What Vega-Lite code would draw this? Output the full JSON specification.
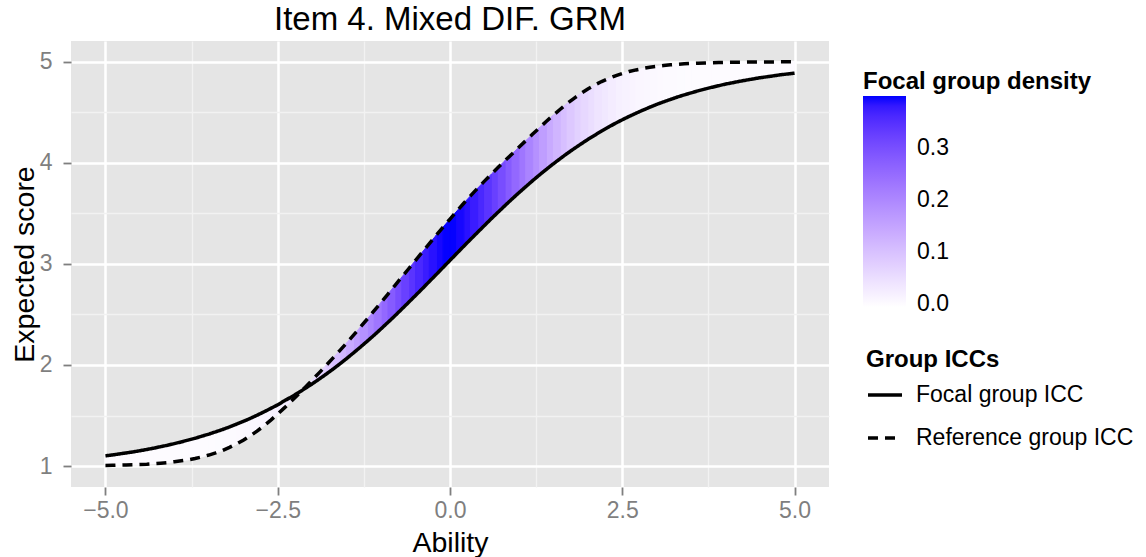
{
  "$schema": "https://vega.github.io/schema/vega-lite/v6.json",
  "width": 758,
  "height": 446,
  "autosize": {"type": "none"},
  "padding": {"left": 71, "top": 41, "right": 317, "bottom": 70},
  "background": "white",
  "title": {"text": "Item 4. Mixed DIF. GRM", "fontSize": 33, "fontWeight": "normal", "color": "black", "anchor": "middle", "frame": "group", "offset": 4},
  "datasets": {
    "icc": [
      {"x":-5.0,"f":1.101,"r":1.006,"d":0,"a":0,"b":0},
      {"x":-4.9,"f":1.110,"r":1.007,"d":0,"a":0,"b":1},
      {"x":-4.8,"f":1.120,"r":1.009,"d":0,"a":1,"b":1},
      {"x":-4.7,"f":1.130,"r":1.011,"d":0,"a":1,"b":2},
      {"x":-4.6,"f":1.140,"r":1.013,"d":0,"a":2,"b":2},
      {"x":-4.5,"f":1.152,"r":1.016,"d":0,"a":2,"b":3},
      {"x":-4.4,"f":1.164,"r":1.019,"d":0,"a":3,"b":3},
      {"x":-4.3,"f":1.177,"r":1.024,"d":0,"a":3,"b":4},
      {"x":-4.2,"f":1.192,"r":1.029,"d":0.0001,"a":4,"b":4},
      {"x":-4.1,"f":1.206,"r":1.035,"d":0.0001,"a":4,"b":5},
      {"x":-4.0,"f":1.222,"r":1.043,"d":0.0001,"a":5,"b":5},
      {"x":-3.9,"f":1.239,"r":1.052,"d":0.0002,"a":5,"b":6},
      {"x":-3.8,"f":1.257,"r":1.062,"d":0.0003,"a":6,"b":6},
      {"x":-3.7,"f":1.275,"r":1.075,"d":0.0004,"a":6,"b":7},
      {"x":-3.6,"f":1.296,"r":1.091,"d":0.0006,"a":7,"b":7},
      {"x":-3.5,"f":1.316,"r":1.109,"d":0.0009,"a":7,"b":8},
      {"x":-3.4,"f":1.339,"r":1.130,"d":0.0012,"a":8,"b":8},
      {"x":-3.3,"f":1.362,"r":1.155,"d":0.0017,"a":8,"b":9},
      {"x":-3.2,"f":1.387,"r":1.185,"d":0.0024,"a":9,"b":9},
      {"x":-3.1,"f":1.414,"r":1.218,"d":0.0033,"a":9,"b":10},
      {"x":-3.0,"f":1.442,"r":1.256,"d":0.0044,"a":10,"b":10},
      {"x":-2.9,"f":1.471,"r":1.299,"d":0.0060,"a":10,"b":11},
      {"x":-2.8,"f":1.503,"r":1.346,"d":0.0079,"a":11,"b":11},
      {"x":-2.7,"f":1.536,"r":1.398,"d":0.0104,"a":11,"b":12},
      {"x":-2.6,"f":1.571,"r":1.455,"d":0.0136,"a":12,"b":12},
      {"x":-2.5,"f":1.606,"r":1.515,"d":0.0175,"a":12,"b":13},
      {"x":-2.4,"f":1.647,"r":1.578,"d":0.0224,"a":13,"b":13},
      {"x":-2.3,"f":1.685,"r":1.644,"d":0.0283,"a":13,"b":14},
      {"x":-2.2,"f":1.726,"r":1.711,"d":0.0355,"a":14,"b":14},
      {"x":-2.1,"f":1.769,"r":1.781,"d":0.0440,"a":14,"b":15},
      {"x":-2.0,"f":1.813,"r":1.851,"d":0.0540,"a":15,"b":15},
      {"x":-1.9,"f":1.860,"r":1.922,"d":0.0656,"a":15,"b":16},
      {"x":-1.8,"f":1.908,"r":1.994,"d":0.0790,"a":16,"b":16},
      {"x":-1.7,"f":1.958,"r":2.068,"d":0.0940,"a":16,"b":17},
      {"x":-1.6,"f":2.010,"r":2.142,"d":0.1109,"a":17,"b":17},
      {"x":-1.5,"f":2.064,"r":2.218,"d":0.1295,"a":17,"b":18},
      {"x":-1.4,"f":2.120,"r":2.296,"d":0.1497,"a":18,"b":18},
      {"x":-1.3,"f":2.177,"r":2.375,"d":0.1714,"a":18,"b":19},
      {"x":-1.2,"f":2.236,"r":2.455,"d":0.1942,"a":19,"b":19},
      {"x":-1.1,"f":2.296,"r":2.537,"d":0.2179,"a":19,"b":20},
      {"x":-1.0,"f":2.358,"r":2.619,"d":0.2420,"a":20,"b":20},
      {"x":-0.9,"f":2.422,"r":2.702,"d":0.2661,"a":20,"b":21},
      {"x":-0.8,"f":2.486,"r":2.786,"d":0.2897,"a":21,"b":21},
      {"x":-0.7,"f":2.553,"r":2.869,"d":0.3123,"a":21,"b":22},
      {"x":-0.6,"f":2.620,"r":2.952,"d":0.3332,"a":22,"b":22},
      {"x":-0.5,"f":2.688,"r":3.035,"d":0.3521,"a":22,"b":23},
      {"x":-0.4,"f":2.756,"r":3.118,"d":0.3683,"a":23,"b":23},
      {"x":-0.3,"f":2.826,"r":3.201,"d":0.3814,"a":23,"b":24},
      {"x":-0.2,"f":2.895,"r":3.283,"d":0.3910,"a":24,"b":24},
      {"x":-0.1,"f":2.965,"r":3.364,"d":0.3970,"a":24,"b":25},
      {"x":0.0,"f":3.035,"r":3.444,"d":0.3989,"a":25,"b":25},
      {"x":0.1,"f":3.105,"r":3.523,"d":0.3970,"a":25,"b":26},
      {"x":0.2,"f":3.175,"r":3.600,"d":0.3910,"a":26,"b":26},
      {"x":0.3,"f":3.244,"r":3.675,"d":0.3814,"a":26,"b":27},
      {"x":0.4,"f":3.312,"r":3.748,"d":0.3683,"a":27,"b":27},
      {"x":0.5,"f":3.380,"r":3.819,"d":0.3521,"a":27,"b":28},
      {"x":0.6,"f":3.448,"r":3.888,"d":0.3332,"a":28,"b":28},
      {"x":0.7,"f":3.513,"r":3.956,"d":0.3123,"a":28,"b":29},
      {"x":0.8,"f":3.578,"r":4.023,"d":0.2897,"a":29,"b":29},
      {"x":0.9,"f":3.642,"r":4.088,"d":0.2661,"a":29,"b":30},
      {"x":1.0,"f":3.704,"r":4.154,"d":0.2420,"a":30,"b":30},
      {"x":1.1,"f":3.764,"r":4.219,"d":0.2179,"a":30,"b":31},
      {"x":1.2,"f":3.824,"r":4.284,"d":0.1942,"a":31,"b":31},
      {"x":1.3,"f":3.881,"r":4.348,"d":0.1714,"a":31,"b":32},
      {"x":1.4,"f":3.936,"r":4.411,"d":0.1497,"a":32,"b":32},
      {"x":1.5,"f":3.990,"r":4.472,"d":0.1295,"a":32,"b":33},
      {"x":1.6,"f":4.042,"r":4.530,"d":0.1109,"a":33,"b":33},
      {"x":1.7,"f":4.092,"r":4.586,"d":0.0940,"a":33,"b":34},
      {"x":1.8,"f":4.140,"r":4.638,"d":0.0790,"a":34,"b":34},
      {"x":1.9,"f":4.186,"r":4.686,"d":0.0656,"a":34,"b":35},
      {"x":2.0,"f":4.231,"r":4.730,"d":0.0540,"a":35,"b":35},
      {"x":2.1,"f":4.273,"r":4.769,"d":0.0440,"a":35,"b":36},
      {"x":2.2,"f":4.314,"r":4.804,"d":0.0355,"a":36,"b":36},
      {"x":2.3,"f":4.353,"r":4.834,"d":0.0283,"a":36,"b":37},
      {"x":2.4,"f":4.391,"r":4.861,"d":0.0224,"a":37,"b":37},
      {"x":2.5,"f":4.426,"r":4.883,"d":0.0175,"a":37,"b":38},
      {"x":2.6,"f":4.459,"r":4.903,"d":0.0136,"a":38,"b":38},
      {"x":2.7,"f":4.491,"r":4.919,"d":0.0104,"a":38,"b":39},
      {"x":2.8,"f":4.521,"r":4.933,"d":0.0079,"a":39,"b":39},
      {"x":2.9,"f":4.550,"r":4.945,"d":0.0060,"a":39,"b":40},
      {"x":3.0,"f":4.578,"r":4.954,"d":0.0044,"a":40,"b":40},
      {"x":3.1,"f":4.603,"r":4.962,"d":0.0033,"a":40,"b":41},
      {"x":3.2,"f":4.627,"r":4.969,"d":0.0024,"a":41,"b":41},
      {"x":3.3,"f":4.651,"r":4.974,"d":0.0017,"a":41,"b":42},
      {"x":3.4,"f":4.672,"r":4.979,"d":0.0012,"a":42,"b":42},
      {"x":3.5,"f":4.692,"r":4.983,"d":0.0009,"a":42,"b":43},
      {"x":3.6,"f":4.712,"r":4.986,"d":0.0006,"a":43,"b":43},
      {"x":3.7,"f":4.730,"r":4.988,"d":0.0004,"a":43,"b":44},
      {"x":3.8,"f":4.747,"r":4.990,"d":0.0003,"a":44,"b":44},
      {"x":3.9,"f":4.763,"r":4.992,"d":0.0002,"a":44,"b":45},
      {"x":4.0,"f":4.779,"r":4.994,"d":0.0001,"a":45,"b":45},
      {"x":4.1,"f":4.792,"r":4.995,"d":0.0001,"a":45,"b":46},
      {"x":4.2,"f":4.806,"r":4.996,"d":0.0001,"a":46,"b":46},
      {"x":4.3,"f":4.818,"r":4.996,"d":0,"a":46,"b":47},
      {"x":4.4,"f":4.830,"r":4.997,"d":0,"a":47,"b":47},
      {"x":4.5,"f":4.842,"r":4.998,"d":0,"a":47,"b":48},
      {"x":4.6,"f":4.851,"r":4.998,"d":0,"a":48,"b":48},
      {"x":4.7,"f":4.861,"r":4.998,"d":0,"a":48,"b":49},
      {"x":4.8,"f":4.871,"r":4.999,"d":0,"a":49,"b":49},
      {"x":4.9,"f":4.879,"r":4.999,"d":0,"a":49,"b":50},
      {"x":5.0,"f":4.887,"r":4.999,"d":0,"a":50,"b":50}
    ]
  },
  "data": {"name": "icc"},
  "encoding": {
    "x": {
      "field": "x", "type": "quantitative",
      "scale": {"domain": [-5.5, 5.5], "nice": false, "zero": false},
      "axis": {
        "title": "Ability",
        "values": [-5, -3.75, -2.5, -1.25, 0, 1.25, 2.5, 3.75, 5],
        "format": ".1f",
        "labelExpr": "abs(datum.value % 2.5) > 0.01 ? '' : datum.label",
        "gridColor": {"condition": {"test": "abs(datum.value % 2.5) > 0.01", "value": "#F2F2F2"}, "value": "#FFFFFF"},
        "gridWidth": {"condition": {"test": "abs(datum.value % 2.5) > 0.01", "value": 1.3}, "value": 2.5},
        "tickOpacity": {"condition": {"test": "abs(datum.value % 2.5) > 0.01", "value": 0}, "value": 1},
        "labelPadding": 4,
        "titleY": 64,
        "titleBaseline": "alphabetic"
      }
    }
  },
  "layer": [
    {
      "transform": [{"joinaggregate": [{"op": "mean", "field": "d", "as": "dm"}, {"op": "mean", "field": "d", "as": "ds"}], "groupby": ["a"]}],
      "mark": {"type": "area", "strokeWidth": 1},
      "encoding": {
        "y": {
          "field": "r", "type": "quantitative",
          "scale": {"domain": [0.793, 5.205], "nice": false, "zero": false},
          "axis": {
            "title": "Expected score",
            "values": [1, 1.5, 2, 2.5, 3, 3.5, 4, 4.5, 5],
            "labelExpr": "datum.value % 1 != 0 ? '' : format(datum.value, 'd')",
            "gridColor": {"condition": {"test": "datum.value % 1 != 0", "value": "#F2F2F2"}, "value": "#FFFFFF"},
            "gridWidth": {"condition": {"test": "datum.value % 1 != 0", "value": 1.3}, "value": 2.5},
            "tickOpacity": {"condition": {"test": "datum.value % 1 != 0", "value": 0}, "value": 1},
            "labelPadding": 11,
            "titleX": -38,
            "titleBaseline": "alphabetic"
          }
        },
        "y2": {"field": "f"},
        "detail": {"field": "a"},
        "color": {
          "field": "dm", "type": "quantitative",
          "scale": {"domain": [-0.006, 0.3989], "range": ["#FFFFFF", "#0000FF"], "interpolate": "lab"},
          "legend": {
            "type": "gradient",
            "title": "Focal group density",
            "orient": "none", "direction": "vertical",
            "legendX": 792, "legendY": 29,
            "values": [0, 0.1, 0.2, 0.3], "format": ".1f",
            "gradientLength": 211, "gradientThickness": 43, "gradientStrokeWidth": 0,
            "titlePadding": 2, "labelOffset": 11, "labelBaseline": "middle", "labelOverlap": false,
            "titleLimit": 400, "labelLimit": 300,
            "padding": 0
          }
        },
        "stroke": {
          "field": "ds", "type": "quantitative",
          "scale": {"domain": [-0.006, 0.39892], "range": ["#FFFFFF", "#0000FF"], "interpolate": "lab"},
          "legend": null
        }
      }
    },
    {
      "transform": [{"joinaggregate": [{"op": "mean", "field": "d", "as": "dm"}, {"op": "mean", "field": "d", "as": "ds"}], "groupby": ["b"]}],
      "mark": {"type": "area", "strokeWidth": 1},
      "encoding": {
        "y": {"field": "r", "type": "quantitative", "scale": {"domain": [0.793, 5.205], "nice": false, "zero": false}},
        "y2": {"field": "f"},
        "detail": {"field": "b"},
        "color": {
          "field": "dm", "type": "quantitative",
          "scale": {"domain": [-0.006, 0.3989], "range": ["#FFFFFF", "#0000FF"], "interpolate": "lab"}
        },
        "stroke": {
          "field": "ds", "type": "quantitative",
          "scale": {"domain": [-0.006, 0.39892], "range": ["#FFFFFF", "#0000FF"], "interpolate": "lab"},
          "legend": null
        }
      }
    },
    {
      "transform": [{"fold": ["f", "r"], "as": ["g", "v"]}],
      "mark": {"type": "line", "color": "black", "strokeWidth": 3.5, "strokeCap": "butt"},
      "encoding": {
        "y": {"field": "v", "type": "quantitative", "scale": {"domain": [0.793, 5.205], "nice": false, "zero": false}},
        "strokeDash": {
          "field": "g", "type": "nominal",
          "scale": {"domain": ["f", "r"], "range": [[1, 0], [10, 7]]},
          "legend": {
            "title": "Group ICCs",
            "orient": "none", "direction": "vertical",
            "legendX": 795, "legendY": 307,
            "symbolType": "stroke", "symbolSize": 1156, "symbolStrokeWidth": 3.5, "symbolStrokeColor": "black",
            "labelExpr": "datum.label == 'f' ? 'Focal group ICC' : 'Reference group ICC'",
            "titlePadding": 4, "labelOffset": 12, "rowPadding": 12,
            "titleLimit": 400, "labelLimit": 300,
            "padding": 0
          }
        }
      }
    }
  ],
  "config": {
    "font": "Liberation Sans",
    "view": {"fill": "#E5E5E5", "stroke": null},
    "axis": {
      "domain": false,
      "tickColor": "#7F7F7F", "tickWidth": 1.8, "tickSize": 8,
      "labelColor": "#7F7F7F", "labelFontSize": 23, "labelFlush": false, "labelOverlap": false,
      "titleFontSize": 28.5, "titleFontWeight": "normal", "titleColor": "#000000"
    },
    "legend": {
      "titleFontSize": 24, "titleFontWeight": "bold", "titleColor": "#000000",
      "labelFontSize": 23, "labelColor": "#000000"
    }
  }
}
